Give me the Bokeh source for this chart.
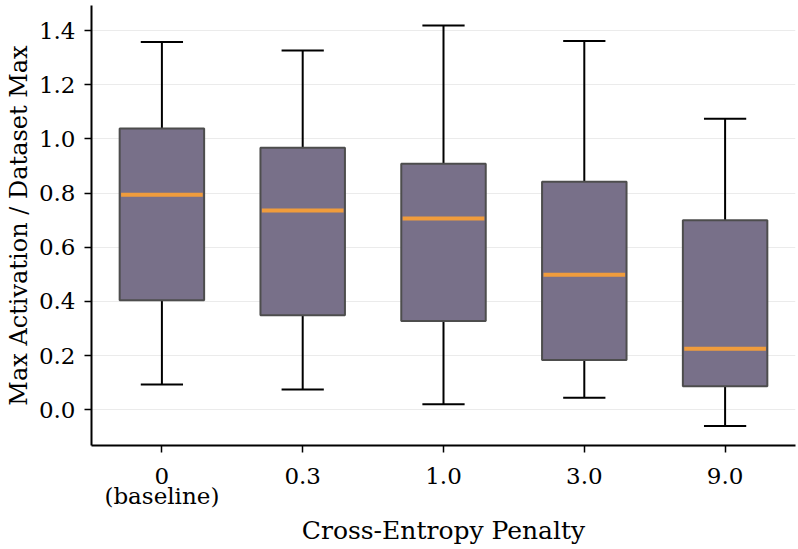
from bokeh.plotting import figure
from bokeh.models import Range1d, FixedTicker
from bokeh.embed import file_html
from bokeh.resources import INLINE

categories = ["0\n(baseline)", "0.3", "1.0", "3.0", "9.0"]
whisker_low = [0.093, 0.075, 0.020, 0.044, -0.060]
q1 = [0.404, 0.349, 0.328, 0.184, 0.087]
median = [0.794, 0.736, 0.706, 0.499, 0.225]
q3 = [1.039, 0.968, 0.909, 0.842, 0.700]
whisker_high = [1.358, 1.327, 1.419, 1.362, 1.075]
y_ticks = [0.0, 0.2, 0.4, 0.6, 0.8, 1.0, 1.2, 1.4]

pos = list(range(1, len(categories) + 1))
FONT = "DejaVu Serif"

p = figure(width=798, height=549, output_backend="svg", toolbar_location=None,
           x_range=Range1d(0.5, 5.5), y_range=Range1d(-0.132, 1.493),
           min_border_left=91, min_border_right=3, min_border_top=5, min_border_bottom=104)
p.outline_line_color = None
p.background_fill_color = "white"

# grid
p.xgrid.grid_line_color = None
p.ygrid.grid_line_color = "#ebebeb"
p.ygrid.grid_line_width = 1

# whiskers
bw = 0.6
cw = 0.3
p.segment(x0=pos, y0=q3, x1=pos, y1=whisker_high, line_color="black", line_width=2)
p.segment(x0=pos, y0=q1, x1=pos, y1=whisker_low, line_color="black", line_width=2)
p.segment(x0=[x - cw / 2 for x in pos], y0=whisker_high, x1=[x + cw / 2 for x in pos], y1=whisker_high,
          line_color="black", line_width=2)
p.segment(x0=[x - cw / 2 for x in pos], y0=whisker_low, x1=[x + cw / 2 for x in pos], y1=whisker_low,
          line_color="black", line_width=2)

# boxes
p.vbar(x=pos, width=bw, bottom=q1, top=q3, fill_color="#787089", fill_alpha=1.0,
       line_color="#4d4d4d", line_width=2)
p.segment(x0=[x - bw / 2 + 0.01 for x in pos], y0=median, x1=[x + bw / 2 - 0.01 for x in pos], y1=median,
          line_color="#f09c3c", line_width=4)

# axes
for ax in (p.xaxis[0], p.yaxis[0]):
    ax.axis_line_width = 2
    ax.axis_line_color = "black"
    ax.major_tick_line_width = 1.5
    ax.major_tick_line_color = "black"
    ax.major_tick_out = 7
    ax.major_tick_in = 0
    ax.minor_tick_line_color = None
    ax.major_label_text_font = FONT
    ax.major_label_text_font_size = "23px"
    ax.major_label_text_color = "black"
    ax.axis_label_text_font = FONT
    ax.axis_label_text_font_style = "normal"
    ax.axis_label_text_color = "black"

p.xaxis.ticker = FixedTicker(ticks=pos)
p.xaxis.major_label_overrides = {x: c for x, c in zip(pos, categories)}
p.xaxis.major_label_text_line_height = 0.8
p.xaxis.axis_label = "Cross-Entropy Penalty"
p.xaxis.axis_label_text_font_size = "25px"
p.xaxis.major_label_standoff = 10
p.xaxis.axis_label_standoff = 4

p.yaxis.ticker = FixedTicker(ticks=y_ticks)
p.yaxis.major_label_overrides = {t: f"{t:.1f}" for t in y_ticks}
p.yaxis.axis_label = "Max Activation / Dataset Max"
p.yaxis.axis_label_text_font_size = "24px"
p.yaxis.major_label_standoff = 9
p.yaxis.axis_label_standoff = 3

open("out.html", "w").write(file_html(p, INLINE))
